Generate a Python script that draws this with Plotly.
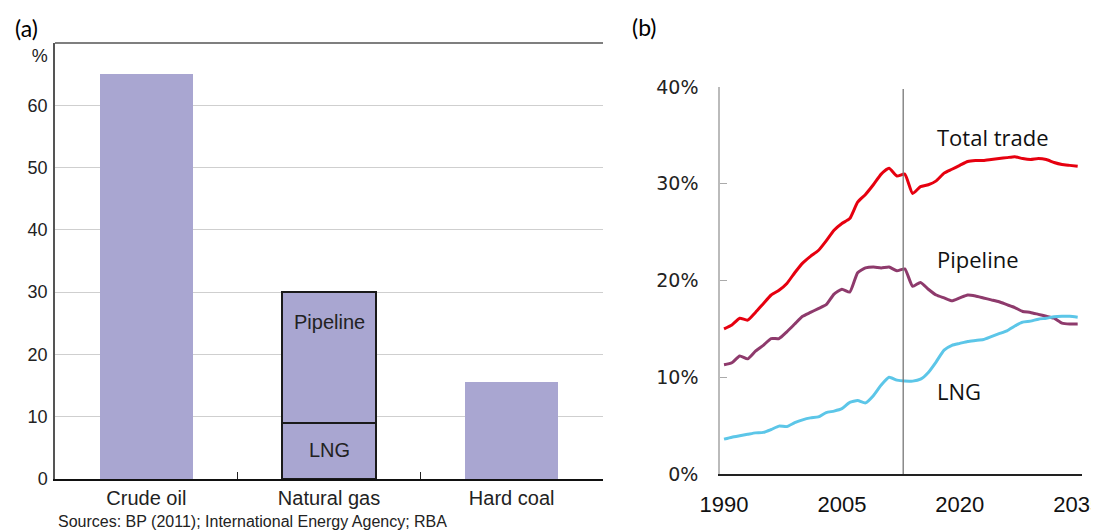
import plotly.graph_objects as go

W, H = 1099, 531

# ---------------- Panel (a) data ----------------
categories = ["Crude oil", "Natural gas", "Hard coal"]
base_share = [65.0, 9.0, 15.5]          # crude oil, LNG part of gas, hard coal
pipeline_share = [None, 21.0, None]     # pipeline part of natural gas (stacked on LNG)
a_ticks = [0, 10, 20, 30, 40, 50, 60]
a_unit_pos = 68

# ---------------- Panel (b) data ----------------
years = list(range(1990, 2036))
total_trade = [15.0, 15.4, 16.1, 15.9, 16.7, 17.6, 18.5, 19.0, 19.7, 20.8,
               21.8, 22.5, 23.1, 24.1, 25.2, 25.9, 26.4, 28.1, 28.9, 29.9,
               31.0, 31.6, 30.8, 31.0, 29.0, 29.7, 29.9, 30.3, 31.1, 31.5,
               31.9, 32.3, 32.4, 32.4, 32.5, 32.6, 32.7, 32.8, 32.6, 32.5,
               32.6, 32.5, 32.2, 32.0, 31.9, 31.8]
pipeline = [11.3, 11.5, 12.2, 11.9, 12.7, 13.3, 14.0, 14.0, 14.7, 15.5,
            16.3, 16.7, 17.1, 17.5, 18.6, 19.1, 18.8, 20.8, 21.3, 21.4,
            21.3, 21.4, 21.0, 21.2, 19.4, 19.8, 19.1, 18.5, 18.2, 17.9,
            18.2, 18.5, 18.4, 18.2, 18.0, 17.8, 17.5, 17.2, 16.8, 16.7,
            16.5, 16.3, 16.1, 15.6, 15.5, 15.5]
lng = [3.6, 3.8, 3.95, 4.1, 4.25, 4.3, 4.6, 4.95, 4.9, 5.3,
       5.6, 5.8, 5.9, 6.35, 6.5, 6.75, 7.4, 7.6, 7.35, 8.1,
       9.2, 10.0, 9.7, 9.6, 9.6, 9.8, 10.5, 11.6, 12.8, 13.3,
       13.5, 13.7, 13.8, 13.9, 14.2, 14.5, 14.8, 15.3, 15.7, 15.8,
       16.0, 16.1, 16.25, 16.3, 16.3, 16.2]
b_tick_years = [1990, 2005, 2020, 2035]
b_tick_pct = [0, 10, 20, 30, 40]
projection_start = 2012.8


def px_x(p):
    return p / W


def px_y(p):
    return 1 - p / H


BAR = "#A9A6D1"
SANS = "Liberation Sans, Arial, sans-serif"
OPEN = "Open Sans, sans-serif"

fig = go.Figure()

fig.add_trace(go.Bar(
    x=categories, y=base_share, marker=dict(color=BAR,
    line=dict(color="#1a1a1a", width=[0, 2, 0])),
    xaxis="x", yaxis="y", showlegend=False, hoverinfo="skip"))
fig.add_trace(go.Bar(
    x=categories, y=pipeline_share, marker=dict(color=BAR,
    line=dict(color="#1a1a1a", width=[0, 2, 0])),
    xaxis="x", yaxis="y", showlegend=False, hoverinfo="skip"))

fig.add_trace(go.Scatter(x=years, y=total_trade, mode="lines",
                         line=dict(color="#E6000F", width=3, shape="spline", smoothing=0.5),
                         xaxis="x2", yaxis="y2", showlegend=False))
fig.add_trace(go.Scatter(x=years, y=pipeline, mode="lines",
                         line=dict(color="#8E3A6C", width=3, shape="spline", smoothing=0.5),
                         xaxis="x2", yaxis="y2", showlegend=False))
fig.add_trace(go.Scatter(x=years, y=lng, mode="lines",
                         line=dict(color="#5CC6E8", width=3, shape="spline", smoothing=0.5),
                         xaxis="x2", yaxis="y2", showlegend=False))

a_labels = [str(v) for v in a_ticks] + ["%"]
a_vals = a_ticks + [a_unit_pos]

fig.update_layout(
    width=W, height=H,
    margin=dict(l=0, r=0, t=0, b=0, pad=0, autoexpand=False),
    paper_bgcolor="white", plot_bgcolor="white",
    barmode="stack", bargap=0.49,
    xaxis=dict(domain=[px_x(55), px_x(603)], type="category", range=[-0.5, 2.5],
               automargin=False,
               showline=True, linecolor="#111", linewidth=2,
               tickson="boundaries", ticks="inside", ticklen=7, tickcolor="#222", tickwidth=1,
               tickfont=dict(family=SANS, size=20, color="#222"),
               showgrid=False, anchor="y", fixedrange=True),
    yaxis=dict(domain=[px_y(479), px_y(43)], range=[0, 70], automargin=False,
               tickmode="array", tickvals=a_vals, ticktext=a_labels, ticks="",
               tickfont=dict(family=SANS, size=18, color="#222"),
               showline=True, linecolor="#555", linewidth=1.5,
               showgrid=False, zeroline=False, ticklabelstandoff=2,
               minor=dict(tickmode="array", tickvals=a_ticks[1:], showgrid=True,
                          gridcolor="#CFCFCF", gridwidth=1, ticks=""),
               anchor="x"),
    yaxis3=dict(domain=[px_y(479), px_y(43)], range=[0, 70], overlaying="y",
                side="right", anchor="x", automargin=False,
                tickmode="array", tickvals=a_vals, ticktext=a_labels, ticks="",
                tickfont=dict(family=SANS, size=18, color="#222"),
                showline=True, linecolor="#8c8c8c", linewidth=2,
                showgrid=False, zeroline=False, ticklabelstandoff=1),
    xaxis2=dict(domain=[px_x(720), px_x(1082)], range=[1989.49, 2035.55],
                automargin=False, ticklabeloverflow="allow",
                tickmode="array", tickvals=b_tick_years,
                ticktext=[str(y) for y in b_tick_years],
                ticks="", showline=True, linecolor="#222", linewidth=2,
                tickfont=dict(family=SANS, size=22, color="#111"),
                ticklabelstandoff=10,
                showgrid=False, zeroline=False, anchor="y2"),
    yaxis2=dict(domain=[px_y(474), px_y(87)], range=[0, 40], automargin=False,
                tickmode="array", tickvals=b_tick_pct,
                ticktext=[f"{v}%" for v in b_tick_pct],
                ticks="inside", ticklen=7, tickcolor="#aaa", tickwidth=1,
                showline=True, linecolor="#bbb", linewidth=1.5,
                tickfont=dict(family="DejaVu Sans, sans-serif", size=19, color="#222"),
                ticklabelstandoff=16, showgrid=False, zeroline=False, anchor="x2"),
)

shapes = [
    # top border of panel (a)
    dict(type="line", xref="x domain", yref="y domain", x0=0, x1=1, y0=1, y1=1,
         line=dict(color="#555", width=1.5)),
    # projection marker in panel (b)
    dict(type="line", xref="x2", yref="paper", x0=projection_start, x1=projection_start,
         y0=px_y(474), y1=px_y(89), line=dict(color="#777", width=1.3)),
    # clip the right-hand labels of panel (a) as in the source
    dict(type="rect", xref="paper", yref="paper", x0=px_x(615), x1=px_x(648),
         y0=px_y(500), y1=px_y(30), fillcolor="white", line=dict(width=0), layer="above"),
    # clip the last year label at the picture edge
    dict(type="rect", xref="paper", yref="paper", x0=px_x(1091), x1=1,
         y0=0, y1=px_y(478), fillcolor="white", line=dict(width=0), layer="above"),
]
fig.update_layout(shapes=shapes)

annotations = [
    dict(text="(a)", x=px_x(26), y=px_y(28), xref="paper", yref="paper",
         xanchor="center", yanchor="middle",
         showarrow=False, font=dict(family="Lato, sans-serif", size=23, color="#000")),
    dict(text="(b)", x=px_x(644), y=px_y(27), xref="paper", yref="paper",
         xanchor="center", yanchor="middle",
         showarrow=False, font=dict(family="Lato, sans-serif", size=23, color="#000")),
    dict(text="Pipeline", x="Natural gas", y=25.2, xref="x", yref="y", showarrow=False,
         font=dict(family=SANS, size=20, color="#222")),
    dict(text="LNG", x="Natural gas", y=4.65, xref="x", yref="y", showarrow=False,
         font=dict(family=SANS, size=20, color="#222")),
    dict(text="Sources: BP (2011); International Energy Agency; RBA",
         x=px_x(56), y=px_y(521), xref="paper", yref="paper",
         xanchor="left", yanchor="middle",
         showarrow=False, font=dict(family=SANS, size=16, color="#222")),
    dict(text="Total trade", x=2016.9, y=34.8, xref="x2", yref="y2",
         xanchor="left", yanchor="middle",
         showarrow=False, font=dict(family=OPEN, size=22, color="#111")),
    dict(text="Pipeline", x=2016.9, y=22.2, xref="x2", yref="y2",
         xanchor="left", yanchor="middle",
         showarrow=False, font=dict(family=OPEN, size=22, color="#111")),
    dict(text="LNG", x=2016.9, y=8.6, xref="x2", yref="y2",
         xanchor="left", yanchor="middle",
         showarrow=False, font=dict(family=OPEN, size=22, color="#111")),
]
fig.update_layout(annotations=annotations)

fig.write_html("out.html",
               config={"displayModeBar": False},
               post_script="document.body.style.margin='0';"
                           "document.body.style.overflow='hidden';")
